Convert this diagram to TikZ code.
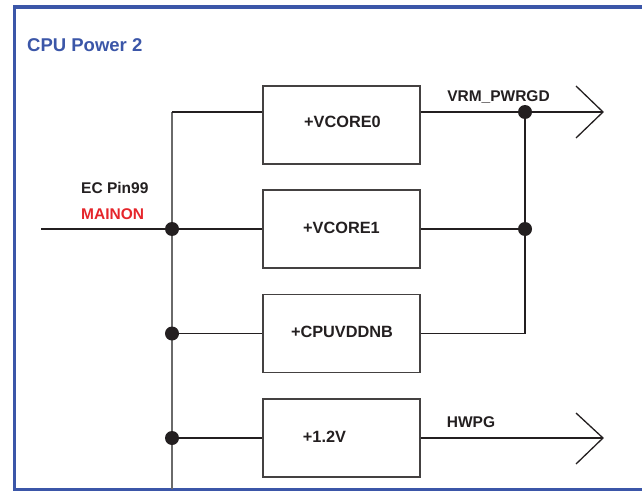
\documentclass[tikz,border=0pt]{standalone}
\usepackage{fontspec}
\setmainfont{Liberation Sans}
\definecolor{frameblue}{HTML}{3B56A8}
\definecolor{ink}{HTML}{231F20}
\definecolor{busgray}{HTML}{6A6A6A}
\definecolor{mainred}{HTML}{E5252B}
\tikzset{
  box/.style={draw=ink!85, line width=1.3pt, minimum width=157pt, minimum height=78pt, inner sep=0pt},
  wire/.style={draw=ink, line width=1.3pt},
  buswire/.style={draw=busgray, line width=1.5pt},
  lbl/.style={font=\bfseries\fontsize{15.5}{18}\selectfont, text=ink, inner sep=0pt, anchor=base},
  boxtxt/.style={font=\bfseries\fontsize{16.3}{19}\selectfont, text=ink, inner sep=0pt, anchor=base},
  dotnode/.style={circle, fill=ink, minimum size=14pt, inner sep=0pt},
  arrowarm/.style={draw=ink, line width=1.3pt}
}
\begin{document}
\begin{tikzpicture}[x=1pt,y=-1pt]
\useasboundingbox (0,0) rectangle (642,492);
% frame (right side lies beyond the picture edge)
\draw[frameblue, line width=3.5pt] (642,7) -- (14.5,7) -- (14.5,489.5) -- (642,489.5);
\node[font=\bfseries\fontsize{18.5}{22}\selectfont, text=frameblue, inner sep=0pt, anchor=base west] (title) at (27,52) {CPU Power 2};

% boxes
\node[box] (b1) at (341.5,125) {};
\node[box] (b2) at (341.5,229) {};
\node[box] (b3) at (341.5,333.5) {};
\node[box] (b4) at (341.5,438) {};
\node[boxtxt] (t1) at (342.5,128) {+VCORE0};
\node[boxtxt] (t2) at (341.5,233) {+VCORE1};
\node[boxtxt] (t3) at (342,337.5) {+CPUVDDNB};
\node[boxtxt] (t4) at (324.5,442) {+1.2V};

% bus
\coordinate (bustop) at (172,112);
\coordinate (busbot) at (172,489);
\draw[buswire] (bustop) -- (busbot);
\draw[wire] (bustop) -- (bustop -| b1.west);

% input
\coordinate (in) at (41,229);
\node[dotnode] (j1) at (172,229) {};
\draw[wire] (in) -- (j1) -- (b2.west);
\node[dotnode] (j3) at (172,333.5) {};
\draw[wire] (j3) -- (b3.west);
\node[dotnode] (j4) at (172,438) {};
\draw[wire] (j4) -- (b4.west);
\node[lbl, anchor=base west] (ec) at (81,193) {EC Pin99};
\node[lbl, anchor=base west, text=mainred] (mainon) at (81,219) {MAINON};

% VRM_PWRGD
\node[dotnode] (j5) at (525,112) {};
\node[dotnode] (j6) at (525,229) {};
\coordinate (j7) at (525,333.5);
\coordinate (a1) at (603,112);
\draw[wire] (bustop -| b1.east) -- (a1);
\draw[arrowarm] (576,86) -- (a1) -- (576,138);
\draw[wire] (b2.east) -- (j6);
\draw[wire] (b3.east) -- (j7) -- (j5);
\node[lbl] (vrm) at (498.5,102) {VRM\_PWRGD};

% HWPG
\coordinate (a2) at (603,438);
\draw[wire] (b4.east) -- (a2);
\draw[arrowarm] (576,413) -- (a2) -- (576,464);
\node[lbl] (hwpg) at (471,427) {HWPG};
\end{tikzpicture}
\end{document}
